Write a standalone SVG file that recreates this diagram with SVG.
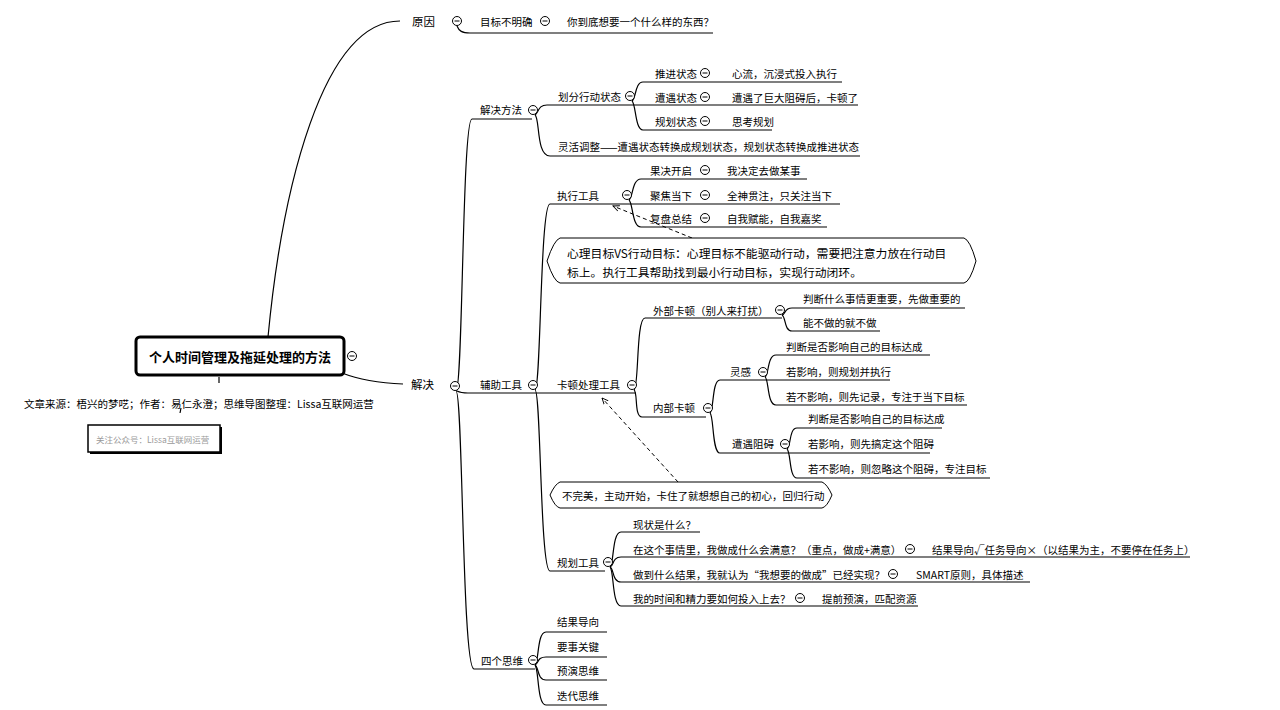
<svg xmlns="http://www.w3.org/2000/svg" xmlns:xlink="http://www.w3.org/1999/xlink" width="1280" height="710" viewBox="0 0 1280 710">
<style>
text{font-family:"Noto Sans CJK SC","Noto Sans",sans-serif;font-size:10.5px;fill:#000;dominant-baseline:central}
.l1{font-size:11.5px}
.root{font-size:13px;font-weight:bold}
.co{font-size:11.8px}
.src{font-size:10.5px}
.faint{font-size:8.5px;fill:#9a9a9a}
.ln{fill:none;stroke:#000;stroke-width:1.2}
.dash{fill:none;stroke:#000;stroke-width:1;stroke-dasharray:4 3}
.box{fill:#fff;stroke:#000;stroke-width:1}
</style>
<defs>
<g id="c"><circle r="4.5" fill="#fff" stroke="#000" stroke-width="1"/><line x1="-2.5" y1="0" x2="2.5" y2="0" stroke="#000" stroke-width="1"/></g>
<marker id="ar" viewBox="0 0 10 10" refX="9" refY="5" markerWidth="7" markerHeight="7" orient="auto"><path d="M0,1 L9,5 L0,9" fill="none" stroke="#000" stroke-width="1.3"/></marker>
</defs>
<rect width="1280" height="710" fill="#fff"/>

<g id="connectors">
<path class="ln" d="M268,337 C282,190 322,21 400,21"/>
<path class="ln" d="M342,373 C360,380 380,383 403,384"/>
<path class="ln" d="M219,377 L219,383"/>
<path class="ln" d="M181,408 L180,413"/>
<path class="ln" d="M457,26 C459,31 462,33 470,33 L713,33"/>
<path class="ln" d="M456,391 C463,391 462,119 472,119 L532,119"/>
<path class="ln" d="M457,391 Q461,393 468,393 L636,393"/>
<path class="ln" d="M456,391 C463,391 462,669 474,669 L535,669"/>
<path class="ln" d="M535,115 C539,112 538,105 547,105 L858,105"/>
<path class="ln" d="M535,115 C540,118 536,156 550,156 L860,156"/>
<path class="ln" d="M632,101 C636,99 635,82 643,82 L842,82"/>
<path class="ln" d="M632,101 C636,104 635,130 643,130 L772,130"/>
<path class="ln" d="M535,390 C541,390 540,204 550,204 L840,204"/>
<path class="ln" d="M535,390 C541,390 540,571 550,571 L605,571"/>
<path class="ln" d="M629,200 C633,198 632,179 641,179 L807,179"/>
<path class="ln" d="M629,200 C633,203 632,227 641,227 L827,227"/>
<path class="ln" d="M634,390 C639,388 636,318 645,318 L782,318"/>
<path class="ln" d="M634,390 C638,392 634,417 642,417 L706,417"/>
<path class="ln" d="M782,315 C786,314 784,308 792,308 L965,308"/>
<path class="ln" d="M782,315 C786,317 784,331 792,331 L880,331"/>
<path class="ln" d="M710,413 C714,410 712,380 720,380 L890,380"/>
<path class="ln" d="M710,413 C714,416 712,453 720,453 L930,453"/>
<path class="ln" d="M765,377 C769,376 767,355 776,355 L930,355"/>
<path class="ln" d="M765,377 C769,379 767,405 776,405 L967,405"/>
<path class="ln" d="M787,449 C791,447 789,428 797,428 L942,428"/>
<path class="ln" d="M787,449 C791,452 789,478 797,478 L990,478"/>
<path class="ln" d="M610,567 C614,565 612,532 621,532 L700,532"/>
<path class="ln" d="M610,567 C614,566 612,557 621,557 L1190,557"/>
<path class="ln" d="M610,567 C614,568 612,582 621,582 L1030,582"/>
<path class="ln" d="M610,567 C614,570 612,606 621,606 L918,606"/>
<path class="ln" d="M535,665 C539,662 537,632 546,632 L607,632"/>
<path class="ln" d="M535,665 C539,663 537,657 546,657 L607,657"/>
<path class="ln" d="M535,665 C539,667 537,680 546,680 L607,680"/>
<path class="ln" d="M535,665 C539,669 537,705 546,705 L607,705"/>
<path class="dash" d="M692,238 L613,206" marker-end="url(#ar)"/>
<path class="dash" d="M678,482 L602,398" marker-end="url(#ar)"/>
</g>

<g id="root">
<rect x="136" y="337" width="208" height="38" rx="4" fill="#fff" stroke="#000" stroke-width="3"/>
<text class="root" x="240" y="356" text-anchor="middle">个人时间管理及拖延处理的方法</text>
<use href="#c" x="352" y="356"/>
</g>
<g id="source"><text class="src" x="24" y="403">文章来源：梧兴的梦呓；作者：易仁永澄；思维导图整理：Lissa互联网运营</text></g>
<g id="note">
<rect x="90" y="427" width="132" height="27" fill="#000"/>
<rect x="88" y="425" width="132" height="27" fill="#fff" stroke="#000" stroke-width="1.5"/>
<text class="faint" x="96" y="439">关注公众号：Lissa互联网运营</text>
</g>

<g id="n-yuanyin"><text class="l1" x="412" y="21">原因</text><use href="#c" x="457" y="21"/></g>
<g id="n-mubiao"><text x="480" y="21">目标不明确</text><use href="#c" x="545" y="21"/></g>
<g id="n-mubiao-v"><text x="567" y="21">你到底想要一个什么样的东西？</text></g>

<g id="n-jiejue"><text class="l1" x="411" y="384">解决</text><use href="#c" x="455" y="386"/></g>

<g id="n-jjff"><text x="480" y="109">解决方法</text><use href="#c" x="533" y="110"/></g>
<g id="n-hfxd"><text x="558" y="96">划分行动状态</text><use href="#c" x="630" y="96"/></g>
<g id="n-tj"><text x="655" y="73">推进状态</text><use href="#c" x="705" y="73"/><text x="732" y="73">心流，沉浸式投入执行</text></g>
<g id="n-zy"><text x="655" y="97">遭遇状态</text><use href="#c" x="705" y="97"/><text x="732" y="97">遭遇了巨大阻碍后，卡顿了</text></g>
<g id="n-gh"><text x="655" y="121">规划状态</text><use href="#c" x="705" y="121"/><text x="732" y="121">思考规划</text></g>
<g id="n-lhtz"><text x="558" y="146">灵活调整——遭遇状态转换成规划状态，规划状态转换成推进状态</text></g>

<g id="n-fzgj"><text x="480" y="384">辅助工具</text><use href="#c" x="533" y="385"/></g>
<g id="n-zxgj"><text x="557" y="195">执行工具</text><use href="#c" x="627" y="195"/></g>
<g id="n-gjkq"><text x="650" y="170">果决开启</text><use href="#c" x="705" y="170"/><text x="727" y="170">我决定去做某事</text></g>
<g id="n-jjdx"><text x="650" y="195">聚焦当下</text><use href="#c" x="705" y="195"/><text x="727" y="195">全神贯注，只关注当下</text></g>
<g id="n-fpzj"><text x="650" y="218">复盘总结</text><use href="#c" x="705" y="218"/><text x="727" y="218">自我赋能，自我嘉奖</text></g>

<g id="callout1">
<path class="box" d="M560,238 L964,238 Q970,240 976,261 Q970,282 964,283 L560,283 Q554,282 547,261 Q554,240 560,238 Z"/>
<text class="co" x="567" y="252">心理目标VS行动目标：心理目标不能驱动行动，需要把注意力放在行动目</text>
<text class="co" x="567" y="271">标上。执行工具帮助找到最小行动目标，实现行动闭环。</text>
</g>

<g id="n-kdcl"><text x="557" y="384">卡顿处理工具</text><use href="#c" x="632" y="385"/></g>
<g id="n-wbkd"><text x="653" y="310">外部卡顿（别人来打扰）</text><use href="#c" x="780" y="310"/></g>
<g id="n-wb1"><text x="803" y="298">判断什么事情更重要，先做重要的</text></g>
<g id="n-wb2"><text x="803" y="322">能不做的就不做</text></g>
<g id="n-nbkd"><text x="653" y="407">内部卡顿</text><use href="#c" x="708" y="408"/></g>
<g id="n-lg"><text x="730" y="371">灵感</text><use href="#c" x="763" y="372"/></g>
<g id="n-lg1"><text x="786" y="346">判断是否影响自己的目标达成</text></g>
<g id="n-lg2"><text x="786" y="371">若影响，则规划并执行</text></g>
<g id="n-lg3"><text x="786" y="396">若不影响，则先记录，专注于当下目标</text></g>
<g id="n-zyza"><text x="732" y="443">遭遇阻碍</text><use href="#c" x="785" y="444"/></g>
<g id="n-za1"><text x="808" y="418">判断是否影响自己的目标达成</text></g>
<g id="n-za2"><text x="808" y="443">若影响，则先搞定这个阻碍</text></g>
<g id="n-za3"><text x="808" y="468">若不影响，则忽略这个阻碍，专注目标</text></g>

<g id="callout2">
<path class="box" d="M560,482 L822,482 Q827,484 832,495 Q827,507 822,508 L560,508 Q555,507 550,495 Q555,484 560,482 Z"/>
<text x="562" y="495">不完美，主动开始，卡住了就想想自己的初心，回归行动</text>
</g>

<g id="n-ghgj"><text x="557" y="562">规划工具</text><use href="#c" x="608" y="562"/></g>
<g id="n-gh1"><text x="633" y="524">现状是什么？</text></g>
<g id="n-gh2"><text x="633" y="549">在这个事情里，我做成什么会满意？（重点，做成+满意）</text><use href="#c" x="910" y="549"/><text x="932" y="549">结果导向√任务导向×（以结果为主，不要停在任务上）</text></g>
<g id="n-gh3"><text x="633" y="574">做到什么结果，我就认为“我想要的做成”已经实现？</text><use href="#c" x="893" y="574"/><text x="916" y="574">SMART原则，具体描述</text></g>
<g id="n-gh4"><text x="633" y="598">我的时间和精力要如何投入上去？</text><use href="#c" x="800" y="598"/><text x="822" y="598">提前预演，匹配资源</text></g>

<g id="n-sgsw"><text x="481" y="660">四个思维</text><use href="#c" x="533" y="660"/></g>
<g id="n-sw1"><text x="557" y="621">结果导向</text></g>
<g id="n-sw2"><text x="557" y="646">要事关键</text></g>
<g id="n-sw3"><text x="557" y="670">预演思维</text></g>
<g id="n-sw4"><text x="557" y="695">迭代思维</text></g>
</svg>
